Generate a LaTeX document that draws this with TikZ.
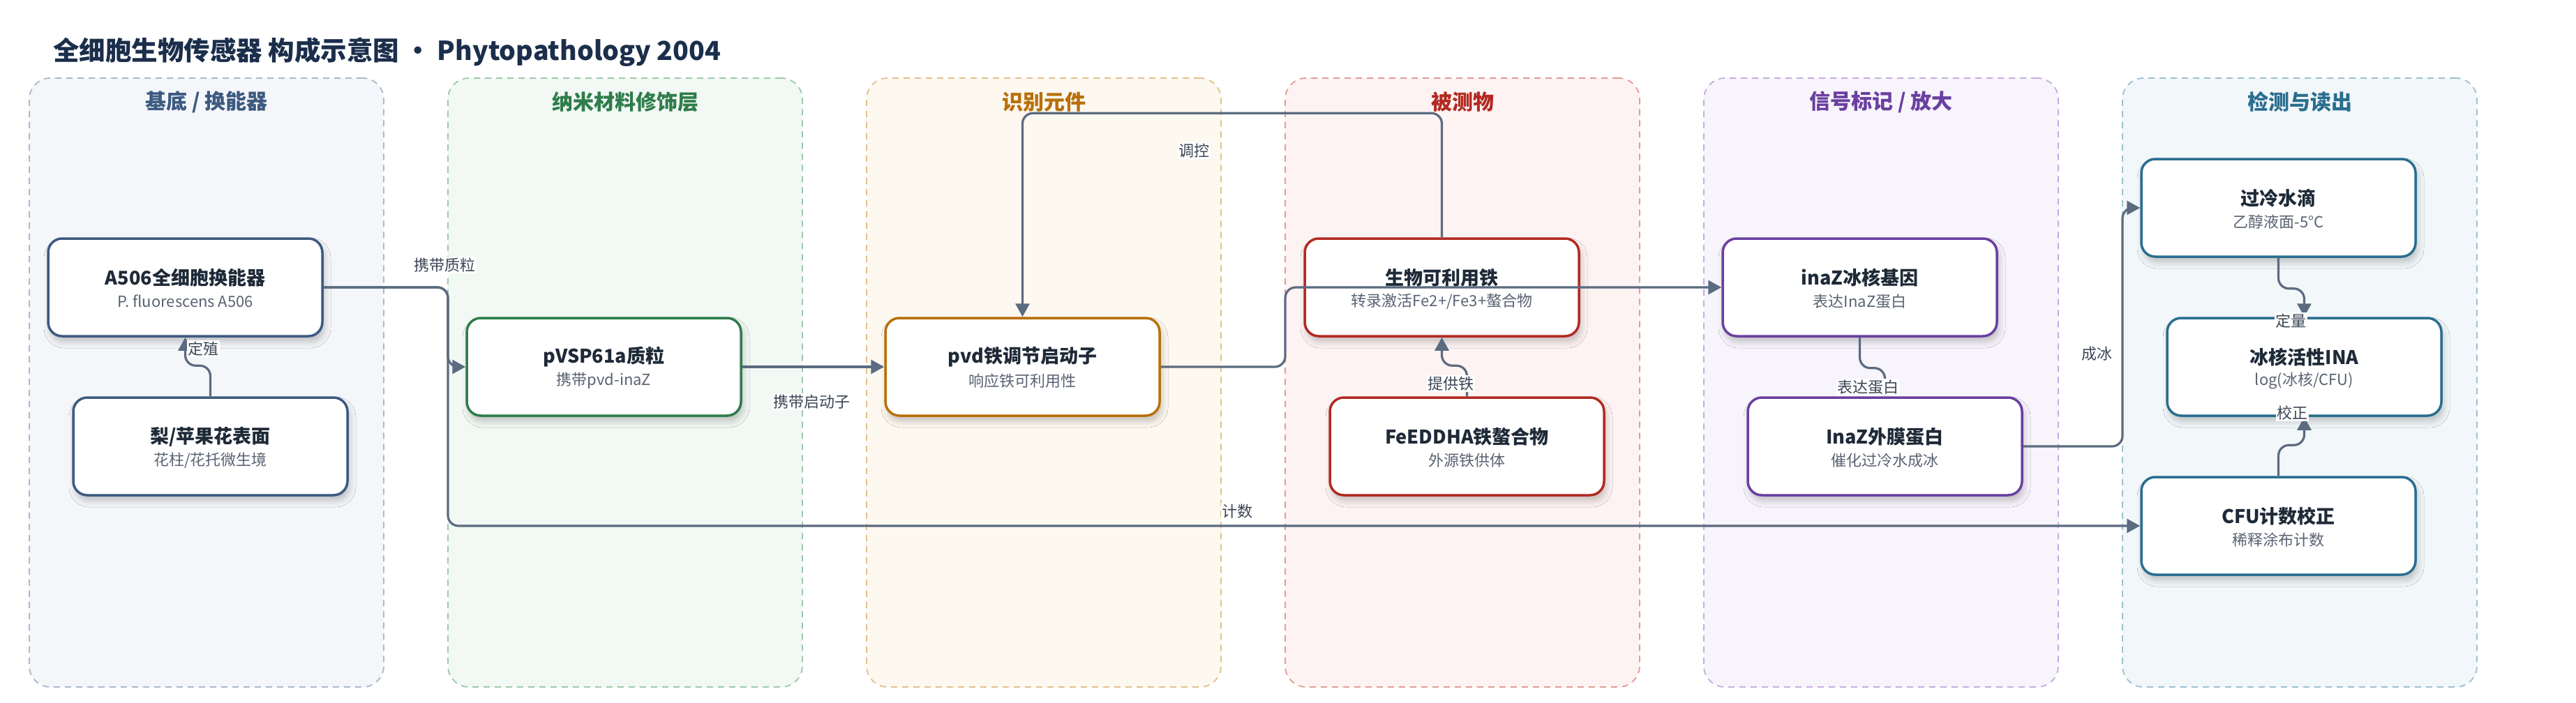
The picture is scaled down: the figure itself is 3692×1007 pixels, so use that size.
\documentclass[tikz,border=0pt]{standalone}
\usepackage{fontspec}
\setmainfont{Noto Sans CJK SC}
\usetikzlibrary{arrows.meta,shadows.blur}

\definecolor{edgec}{HTML}{5B6B80}
\definecolor{lblc}{HTML}{3B4656}
\definecolor{titlec}{HTML}{1B2E4B}
\definecolor{boxtext}{HTML}{1E2A38}
\definecolor{subc}{HTML}{5A6372}
% lane colours
\definecolor{fA}{HTML}{F4F6FA}\definecolor{bA}{HTML}{A9B8CC}\definecolor{cA}{HTML}{3D5A80}
\definecolor{fB}{HTML}{F2F8F4}\definecolor{bB}{HTML}{9CC9AC}\definecolor{cB}{HTML}{2E7D4A}
\definecolor{fC}{HTML}{FDF8F0}\definecolor{bC}{HTML}{E3C08A}\definecolor{cC}{HTML}{B8700A}
\definecolor{fD}{HTML}{FDF3F2}\definecolor{bD}{HTML}{E59A95}\definecolor{cD}{HTML}{B22A22}
\definecolor{fE}{HTML}{F7F4FB}\definecolor{bE}{HTML}{C3ADE0}\definecolor{cE}{HTML}{6A3FA0}
\definecolor{fF}{HTML}{F2F7F9}\definecolor{bF}{HTML}{9CC0D2}\definecolor{cF}{HTML}{2A6E8F}

\newcommand\ddlane[6]{% name, x centre, fill, border, title, title colour
  \node[lanebox, fill=#3, draw=#4] (#1) at (#2,548.5) {};
  \node[lanetitle, text=#6] (#1t) at (#2,146) {#5};
}
\newcommand\ddbox[6]{% name, x, y, colour, title, sub
  \node[dbox, draw=#4] (#1) at (#2,#3) {};
  \node[btitle] (#1t) at (#2,#3-14) {#5};
  \node[bsub] (#1s) at (#2,#3+20) {#6};
}

\begin{document}
\begin{tikzpicture}[x=1pt,y=-1pt,
  lanebox/.style={rounded corners=30pt, minimum width=508pt, minimum height=873pt,
    line width=1.8pt, dash pattern=on 9pt off 7pt, inner sep=0pt},
  lanetitle/.style={font=\fontsize{30}{34}\selectfont\bfseries, inner sep=0pt},
  dbox/.style={rounded corners=20pt, minimum width=393pt, minimum height=140pt,
    line width=3.5pt, fill=white, inner sep=0pt,
    blur shadow={shadow xshift=3pt, shadow yshift=-8pt, shadow blur radius=9pt, shadow opacity=22}},
  btitle/.style={font=\fontsize{27}{32}\selectfont\bfseries, text=boxtext, inner sep=0pt},
  bsub/.style={font=\fontsize{22}{26}\selectfont, text=subc, inner sep=0pt},
  edge/.style={draw=edgec, line width=3.2pt, rounded corners=15pt,
    -{Triangle[length=19pt,width=20pt]}},
  lbl/.style={fill=white, inner sep=1.5pt, font=\fontsize{22}{26}\selectfont, text=lblc},
]
\useasboundingbox (0,0) rectangle (3692,1007);
\fill[white] (0,0) rectangle (3692,1007);

\node[anchor=west, inner sep=0pt, text=titlec, font=\fontsize{37.5}{42}\selectfont\bfseries]
  (title) at (76,75) {全细胞生物传感器 构成示意图 · Phytopathology 2004};

\ddlane{laneA}{296}{fA}{bA}{基底 / 换能器}{cA}
\ddlane{laneB}{896}{fB}{bB}{纳米材料修饰层}{cB}
\ddlane{laneC}{1496}{fC}{bC}{识别元件}{cC}
\ddlane{laneD}{2096}{fD}{bD}{被测物}{cD}
\ddlane{laneE}{2696}{fE}{bE}{信号标记 / 放大}{cE}
\ddlane{laneF}{3296}{fF}{bF}{检测与读出}{cF}

\ddbox{a506}{265.5}{412}{cA}{A506全细胞换能器}{P. fluorescens A506}
\ddbox{pear}{301.5}{640}{cA}{梨/苹果花表面}{花柱/花托微生境}
\ddbox{pvsp}{865.5}{526}{cB}{pVSP61a质粒}{携带pvd-inaZ}
\ddbox{pvd}{1465.5}{526}{cC}{pvd铁调节启动子}{响应铁可利用性}
\ddbox{iron}{2066.5}{412}{cD}{生物可利用铁}{转录激活Fe2+/Fe3+螯合物}
\ddbox{feed}{2102.5}{640}{cD}{FeEDDHA铁螯合物}{外源铁供体}
\ddbox{inazg}{2665.5}{412}{cE}{inaZ冰核基因}{表达InaZ蛋白}
\ddbox{inazp}{2701.5}{640}{cE}{InaZ外膜蛋白}{催化过冷水成冰}
\ddbox{drop}{3265.5}{298}{cF}{过冷水滴}{乙醇液面-5°C}
\ddbox{ina}{3302.5}{526}{cF}{冰核活性INA}{log(冰核/CFU)}
\ddbox{cfu}{3265.5}{754}{cF}{CFU计数校正}{稀释涂布计数}

\coordinate (j1) at (642,412);
\coordinate (j2) at (1842,412);
\coordinate (j3) at (3042,298);

\draw[edge] (pear.north) -- ++(0,-44) -| (a506.south);
\draw[edge] (a506.east) -- (j1) |- (pvsp.west);
\draw[edge] (a506.east) -- (j1) |- (cfu.west);
\draw[edge] (pvsp.east) -- (pvd.west);
\draw[edge] (pvd.east) -| (j2) -- (inazg.west);
\draw[edge] (iron.north) -- ++(0,-178) -| (pvd.north);
\draw[edge] (feed.north) -- ++(0,-44) -| (iron.south);
\draw[edge] (inazg.south) -- ++(0,44) -| (inazp.north);
\draw[edge] (inazp.east) -| (j3) -- (drop.west);
\draw[edge] (drop.south) -- ++(0,44) -| (ina.north);
\draw[edge] (cfu.north) -- ++(0,-44) -| (ina.south);

\node[lbl] (l1) at (291,500) {定殖};
\node[lbl] (l2) at (637,380) {携带质粒};
\node[lbl] (l3) at (1773,733) {计数};
\node[lbl] (l4) at (1163,576) {携带启动子};
\node[lbl] (l5) at (1711,216) {调控};
\node[lbl] (l6) at (2079,550) {提供铁};
\node[lbl] (l7) at (2677,555) {表达蛋白};
\node[lbl] (l8) at (3005,507) {成冰};
\node[lbl] (l9) at (3283,460) {定量};
\node[lbl] (l10) at (3285,592) {校正};
\end{tikzpicture}
\end{document}
